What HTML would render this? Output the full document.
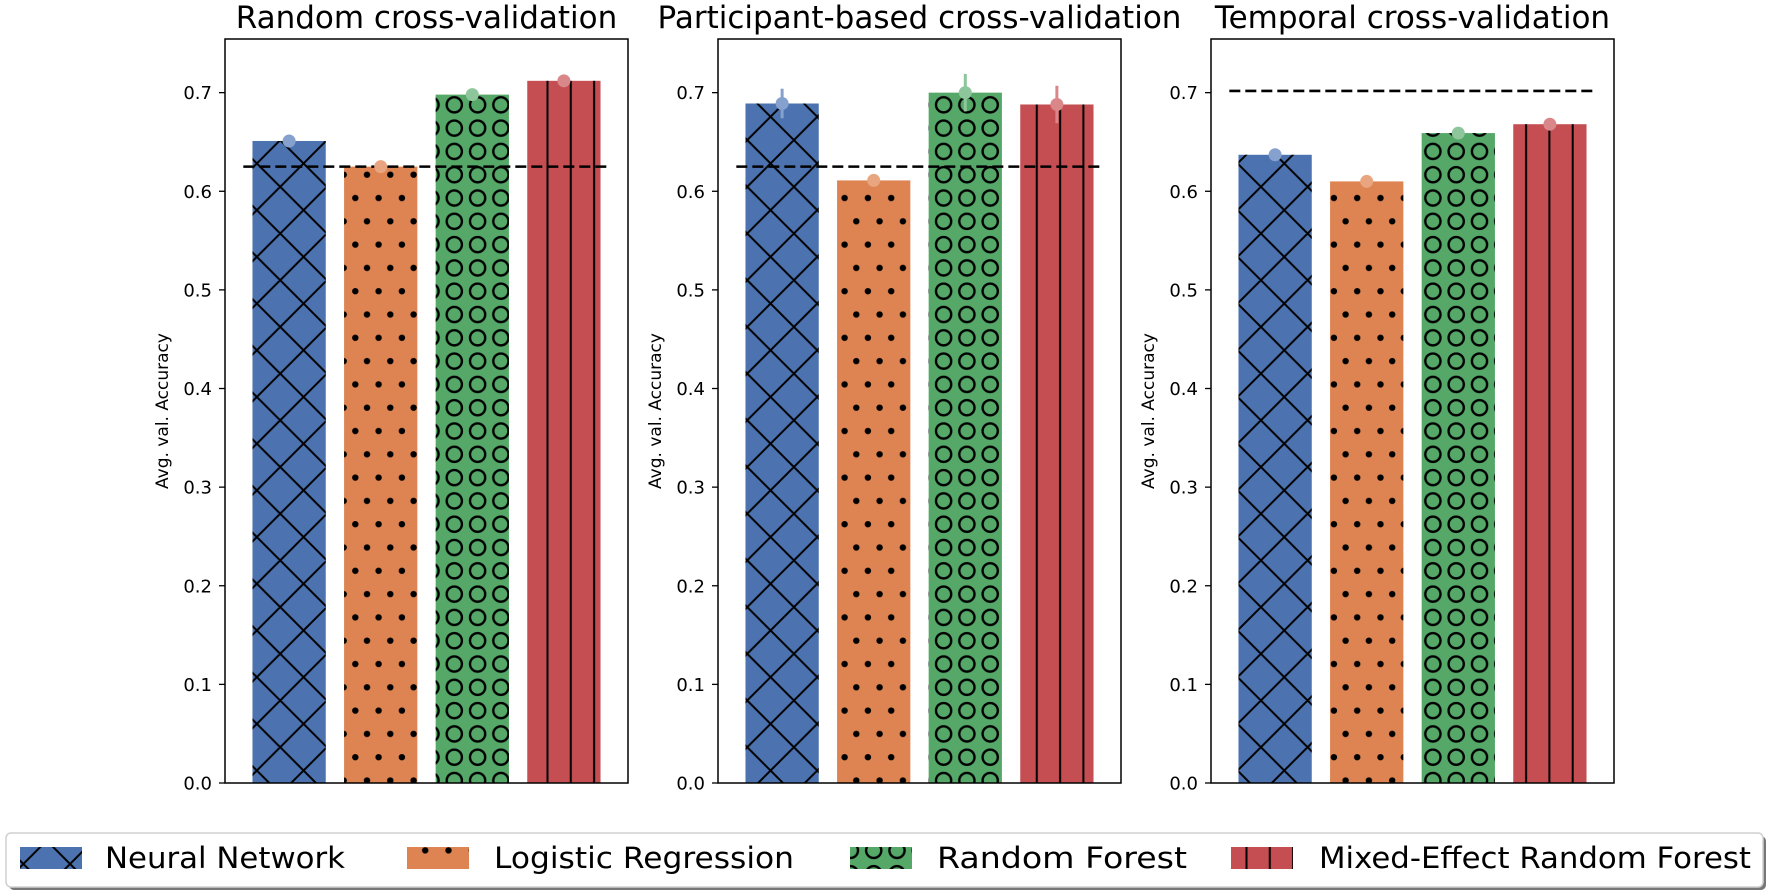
<!DOCTYPE html>
<html><head><meta charset="utf-8"><style>
html,body{margin:0;padding:0;background:#fff;}
svg{display:block;font-family:"DejaVu Sans","Liberation Sans",sans-serif;}
</style></head><body>
<svg id="chart" width="1772" height="896" viewBox="0 0 1772 896" xmlns="http://www.w3.org/2000/svg">
<defs>
<pattern id="hx" patternUnits="userSpaceOnUse" width="46.7" height="46.7">
<path d="M0,0 L46.7,46.7 M46.7,0 L0,46.7 M-23.35,23.35 L23.35,-23.35 M23.35,70 L70,23.35 M-23.35,23.35 L23.35,70 M23.35,-23.35 L70,23.35" stroke="#000" stroke-width="2" fill="none"/>
</pattern>
<pattern id="hd" patternUnits="userSpaceOnUse" width="23.3" height="46.6">
<circle cx="5.8" cy="11.6" r="3.2" fill="#000"/>
<circle cx="17.5" cy="34.9" r="3.2" fill="#000"/>
</pattern>
<pattern id="ho" patternUnits="userSpaceOnUse" width="23.3" height="23.3">
<circle cx="11.6" cy="11.6" r="7.6" fill="none" stroke="#000" stroke-width="2.4"/>
</pattern>
<pattern id="hv" patternUnits="userSpaceOnUse" width="23.3" height="23.3">
<line x1="11.6" y1="0" x2="11.6" y2="23.3" stroke="#000" stroke-width="2"/>
</pattern>
</defs>
<g id="plots"></g>
<g id="legend">
<rect x="9" y="836" width="1757" height="54" rx="5" fill="#777"/>
<rect x="6" y="833" width="1757" height="54" rx="5" fill="#fff" stroke="#d0d0d0" stroke-width="1.5"/>
</g>
</svg>
<script>
const panelTitles = ["Random cross-validation", "Participant-based cross-validation", "Temporal cross-validation"];
const models = ["Neural Network", "Logistic Regression", "Random Forest", "Mixed-Effect Random Forest"];
const randomVals = [0.651, 0.625, 0.698, 0.712];
const participantVals = [0.689, 0.611, 0.700, 0.688];
const temporalVals = [0.637, 0.610, 0.659, 0.668];
const randomErr = [0.002, 0.002, 0.002, 0.002];
const participantErr = [0.015, 0.003, 0.019, 0.019];
const temporalErr = [0.002, 0.002, 0.002, 0.002];
const baselines = [0.625, 0.625, 0.7017];
const yTicks = [0.0, 0.1, 0.2, 0.3, 0.4, 0.5, 0.6, 0.7];
const yTickLabels = ["0.0", "0.1", "0.2", "0.3", "0.4", "0.5", "0.6", "0.7"];

const NS = "http://www.w3.org/2000/svg";
const colors = ["#4c72b0", "#dd8452", "#55a868", "#c44e52"];
const dotColors = ["#86a1cd", "#e9a57f", "#8dc69b", "#da878a"];
const hatches = ["url(#hx)", "url(#hd)", "url(#ho)", "url(#hv)"];
const panelLeft = [225, 718, 1211];
const panelW = 403, axTop = 39, axBottom = 783;
const yMax = 0.7544;
function yScale(v) { return axBottom - v / yMax * (axBottom - axTop); }
function xScale(p, i) { return panelLeft[p] + (i + 0.7) / 4.4 * panelW; }
function mk(tag, attrs, parent) {
  const e = document.createElementNS(NS, tag);
  for (const k in attrs) e.setAttribute(k, attrs[k]);
  parent.appendChild(e);
  return e;
}
const plots = document.getElementById("plots");
const allVals = [randomVals, participantVals, temporalVals];
const allErr = [randomErr, participantErr, temporalErr];
const unit = panelW / 4.4;
for (let p = 0; p < 3; p++) {
  const g = mk("g", {}, plots);
  
  
  const L = panelLeft[p];
  const t = mk("text", {x: L + panelW / 2, y: 28, "text-anchor": "middle", "font-size": 31, fill: "#000"}, g);
  t.textContent = panelTitles[p];
  
  
  const yl = mk("text", {x: 0, y: 0, "text-anchor": "middle", "font-size": 17, fill: "#000", transform: "translate(" + (L - 57) + "," + ((axTop + axBottom) / 2) + ") rotate(-90)"}, g);
  yl.textContent = "Avg. val. Accuracy";
  
  
  for (let k = 0; k < yTicks.length; k++) {
    const y = yScale(yTicks[k]);
    const tk = mk("line", {x1: L - 6, x2: L, y1: y, y2: y, stroke: "#000", "stroke-width": 1.3}, g);
    
    
    const tl = mk("text", {x: L - 13, y: y + 6.5, "text-anchor": "end", "font-size": 18, fill: "#000"}, g);
    tl.textContent = yTickLabels[k];
    
    
  }
  const vals = allVals[p], errs = allErr[p];
  for (let i = 0; i < 4; i++) {
    const cx = xScale(p, i), w = 0.8 * unit;
    const y0 = yScale(vals[i]);
    const bar = mk("rect", {x: cx - w / 2, y: y0, width: w, height: axBottom - y0, fill: colors[i]}, g);
    
    
    const hb = mk("rect", {x: cx - w / 2, y: y0, width: w, height: axBottom - y0, fill: hatches[i]}, g);
    
    
  }
  const bl = mk("line", {x1: xScale(p, -0.5), x2: xScale(p, 3.5), y1: yScale(baselines[p]), y2: yScale(baselines[p]), stroke: "#000", "stroke-width": 2.6, "stroke-dasharray": "11,5"}, g);
  
  
  for (let i = 0; i < 4; i++) {
    const cx = xScale(p, i);
    const el = mk("line", {x1: cx, x2: cx, y1: yScale(vals[i] + errs[i]), y2: yScale(vals[i] - errs[i]), stroke: dotColors[i], "stroke-width": 3}, g);
    
    
    const d = mk("circle", {cx: cx, cy: yScale(vals[i]), r: 6.5, fill: dotColors[i]}, g);
    
    
  }
  const fr = mk("rect", {x: L, y: axTop, width: panelW, height: axBottom - axTop, fill: "none", stroke: "#000", "stroke-width": 1.5}, g);
  
  
}
const lg = document.getElementById("legend");
const handleX = [20, 407, 850, 1231];
const textX = [105, 494, 937, 1319];
const textLen = [240, 300, 250, 432];
for (let i = 0; i < 4; i++) {
  const e = mk("g", {}, lg);
  
  
  mk("rect", {x: handleX[i], y: 847, width: 62, height: 22, fill: colors[i]}, e);
  mk("rect", {x: handleX[i], y: 847, width: 62, height: 22, fill: hatches[i]}, e);
  const tx = mk("text", {x: textX[i], y: 868, "font-size": 29, fill: "#000", textLength: textLen[i], lengthAdjust: "spacingAndGlyphs"}, e);
  tx.textContent = models[i];
}
</script>
</body></html>
